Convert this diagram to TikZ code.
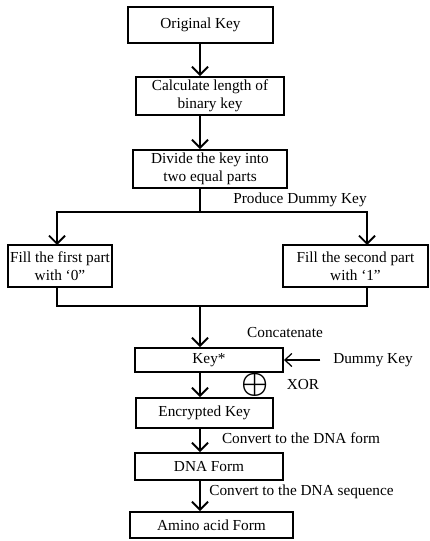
\documentclass[tikz,border=0pt]{standalone}
\usepackage{fontspec}
\setmainfont{Liberation Serif}
\usetikzlibrary{arrows.meta}

\tikzset{
  stepbox/.style={draw, line width=1.1pt, align=center, inner sep=1pt,
    font=\fontsize{8.7}{10.2}\selectfont},
  lbl/.style={inner sep=0pt, font=\fontsize{8.7}{10.2}\selectfont},
  arr/.style={line width=1.1pt, -{Straight Barb[length=1.6mm,width=3.2mm,line width=1.1pt]}},
  link/.style={line width=1.1pt}
}

\begin{document}
\begin{tikzpicture}[x=0.2mm, y=-0.2mm]
	\useasboundingbox (0,0) rectangle (429,541);
	% Boxes
	\node[stepbox, minimum width=29mm, minimum height=7.2mm] (orig) at (200.5,25) {Original Key};
	\node[stepbox, minimum width=29.6mm, minimum height=7.6mm] (calc) at (210,96) {Calculate length of\\binary key};
	\node[stepbox, minimum width=30.8mm, minimum height=7.6mm] (divide) at (210,169) {Divide the key into\\two equal parts};
	\node[stepbox, minimum width=20mm, minimum height=8.4mm] (fill0) at (60,266) {Fill the first part\\with `0''};
	\node[stepbox, minimum width=29mm, minimum height=8.4mm] (fill1) at (355.5,266) {Fill the second part\\with `1''};
	\node[stepbox, minimum width=29.6mm, minimum height=4.8mm] (keystar) at (209,360) {Key*};
	\node[stepbox, minimum width=27.4mm, minimum height=6mm] (enc) at (204.5,413) {Encrypted Key};
	\node[stepbox, minimum width=29.6mm, minimum height=5.4mm] (dna) at (209,466.5) {DNA Form};
	\node[stepbox, minimum width=32.6mm, minimum height=5.2mm] (amino) at (211.5,525) {Amino acid Form};
	% Labels
	\node[lbl] (produce) at (300,200) {Produce Dummy Key};
	\node[lbl] (concat) at (285,333) {Concatenate};
	\node[lbl] (dummy) at (373,360) {Dummy Key};
	\node[inner sep=0pt, font=\boldmath\fontsize{17}{17}\selectfont] (xorsym) at (255,385) {$\oplus$};
	\node[lbl] (xor) at (303,385) {XOR};
	\node[lbl] (todna) at (301,438) {Convert to the DNA form};
	\node[lbl] (toseq) at (301.5,492) {Convert to the DNA sequence};
	% Split and join points
	\coordinate (split) at (200,212);
	\coordinate (join) at (200,306);
	\coordinate (rightin) at (367,245);
	\coordinate (rightout) at (367,287);
	\coordinate (leftin) at (57,245);
	\coordinate (leftout) at (57,287);
	% Connectors
	\draw[arr] (orig.south -| split) -- (calc.north -| split);
	\draw[arr] (calc.south -| split) -- (divide.north -| split);
	\draw[link] (divide.south -| split) -- (split);
	\draw[arr] (split) -| (leftin);
	\draw[arr] (split) -| (rightin);
	\draw[link] (leftout) |- (join);
	\draw[link] (rightout) |- (join);
	\draw[arr] (join) -- (keystar.north -| join);
	\draw[-{Straight Barb[length=1.4mm,width=2.6mm]}, line width=0.7pt, shorten <=2.5mm] (dummy.west) -- (keystar.east);
	\draw[arr] (keystar.south -| join) -- (enc.north -| join);
	\draw[arr] (enc.south -| join) -- (dna.north -| join);
	\draw[arr] (dna.south -| join) -- (amino.north -| join);
\end{tikzpicture}
\end{document}
